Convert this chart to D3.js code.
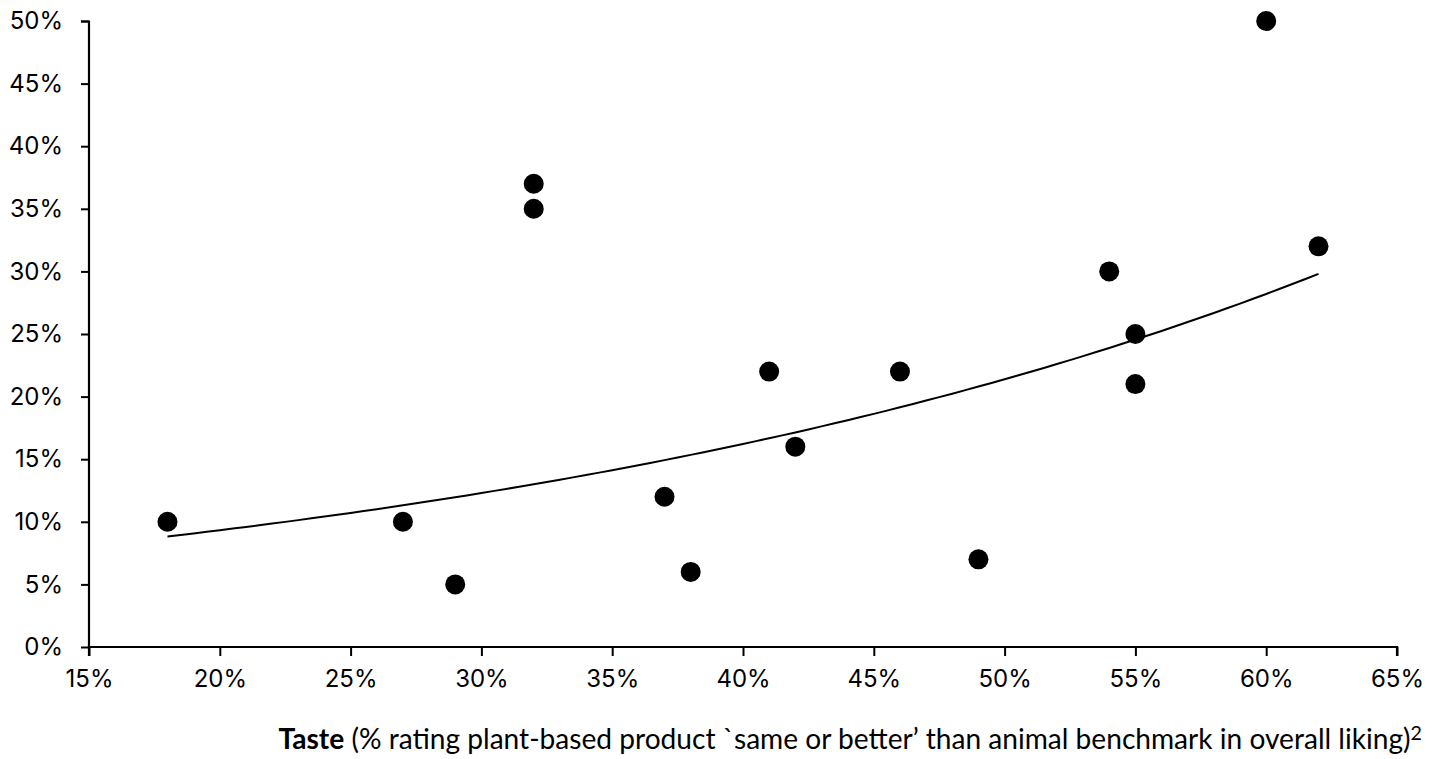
<!DOCTYPE html>
<html><head><meta charset="utf-8">
<script src="https://cdn.jsdelivr.net/npm/d3@7"></script>
<style>body{margin:0;background:#fff;} svg{display:block;font-family:"Inter","Noto Sans",sans-serif;}</style>
</head><body>
<svg id="c" width="1440" height="759"></svg>
<script>
const tasteX = [18,27,29,32,32,37,38,41,42,46,49,54,55,55,60,62];
const shareY = [10,10,5,37,35,12,6,22,16,22,7,30,25,21,50,32];
const xTicks = [15,20,25,30,35,40,45,50,55,60,65];
const yTicks = [0,5,10,15,20,25,30,35,40,45,50];
const titleBold = "Taste";
const titleRest = " (% rating plant-based product `same or better’ than animal benchmark in overall liking)";
const titleSup = "2";

const svg = d3.select("#c");
const x = d3.scaleLinear().domain([15,65]).range([89,1397]);
const y = d3.scaleLinear().domain([0,50]).range([647,21]);

// exponential trendline (least squares on ln y)
const n = tasteX.length;
const lny = shareY.map(Math.log);
const mx = d3.mean(tasteX), my = d3.mean(lny);
let sxy=0,sxx=0;
for(let i=0;i<n;i++){sxy+=(tasteX[i]-mx)*(lny[i]-my);sxx+=(tasteX[i]-mx)**2;}
const b = sxy/sxx, a = Math.exp(my-b*mx);
const [x0,x1] = d3.extent(tasteX);
const trend = d3.range(x0, x1+0.001, 0.5).map(v=>[v, a*Math.exp(b*v)]);

const yAxis = svg.append("g").attr("transform","translate(89,0)")
  .call(d3.axisLeft(y).tickValues(yTicks).tickFormat(d=>d+"%").tickSize(8).tickPadding(18));
const xAxis = svg.append("g").attr("transform","translate(0,647)")
  .call(d3.axisBottom(x).tickValues(xTicks).tickFormat(d=>d+"%").tickSize(9).tickPadding(14));
[yAxis,xAxis].forEach(g=>{
  g.select(".domain").attr("stroke","#000").attr("stroke-width",2.2);
  g.selectAll(".tick line").attr("stroke","#000").attr("stroke-width",2);
  g.selectAll(".tick text").attr("fill","#000").style("font-size","24px").style("font-family","Inter, 'Noto Sans', sans-serif");
});
yAxis.select(".domain").attr("d","M-8,21.5H0V647.5");
xAxis.select(".domain").attr("d","M89,9V0H1397V9");

svg.append("path").datum(trend)
  .attr("d", d3.line().x(d=>x(d[0])).y(d=>y(d[1])))
  .attr("fill","none").attr("stroke","#000").attr("stroke-width",2);

svg.append("g").selectAll("circle").data(tasteX.map((v,i)=>[v,shareY[i]])).join("circle")
  .attr("cx",d=>x(d[0])).attr("cy",d=>y(d[1])).attr("r",10).attr("fill","#000");

const t = svg.append("text").attr("x",1422).attr("y",749).attr("text-anchor","end")
  .style("font-family","Lato, 'Open Sans', sans-serif").style("font-size","24px").attr("fill","#000");
t.append("tspan").attr("font-weight","bold").text(titleBold);
t.append("tspan").text(titleRest);
t.append("tspan").attr("dy",-9).style("font-size","0.7em").text(titleSup);
const w = t.node().getComputedTextLength();
t.style("font-size", (24*1144/w)+"px");
</script>
</body></html>
